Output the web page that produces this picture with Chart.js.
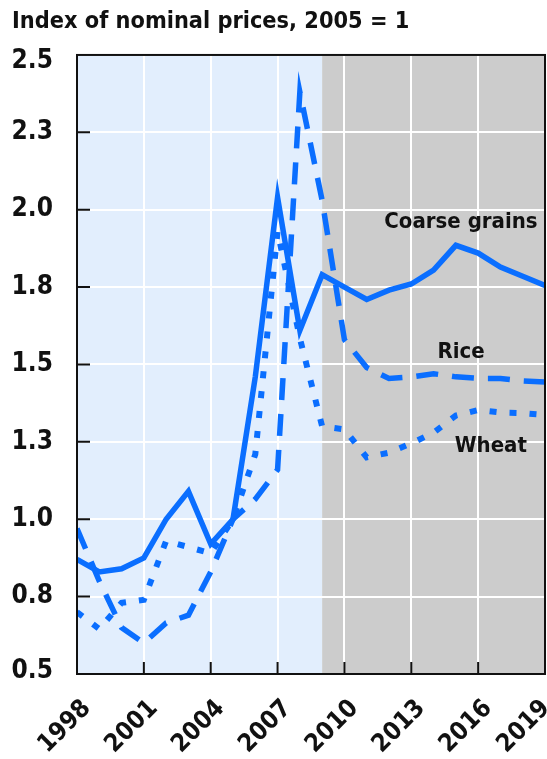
<!DOCTYPE html>
<html>
<head>
<meta charset="utf-8">
<script src="https://cdn.jsdelivr.net/npm/chart.js@4.4.0/dist/chart.umd.min.js"></script>
<style>
  html, body { margin: 0; padding: 0; background: #fff; }
  #wrap { width: 547px; height: 759px; position: relative; }
</style>
</head>
<body>
<div id="wrap"><canvas id="priceChart"></canvas></div>
<script>
/************************ DATA ************************** */
const years = [1998, 1999, 2000, 2001, 2002, 2003, 2004, 2005, 2006, 2007, 2008,
  2009, 2010, 2011, 2012, 2013, 2014, 2015, 2016, 2017, 2018, 2019];

const coarseGrains = [0.87, 0.83, 0.84, 0.875, 1.0, 1.09, 0.92, 1.0, 1.46, 2.04, 1.61,
  1.79, 1.75, 1.71, 1.74, 1.76, 1.805, 1.885, 1.86, 1.815, 1.785, 1.755];
const rice = [0.97, 0.8, 0.65, 0.6, 0.665, 0.69, 0.83, 1.0, 1.065, 1.16, 2.38,
  2.03, 1.58, 1.49, 1.455, 1.46, 1.47, 1.46, 1.455, 1.455, 1.447, 1.443];
const wheat = [0.7, 0.645, 0.73, 0.74, 0.93, 0.91, 0.89, 1.0, 1.21, 1.93, 1.585,
  1.3, 1.29, 1.2, 1.215, 1.245, 1.28, 1.335, 1.353, 1.345, 1.343, 1.337];

const xTickLabels = ["1998", "2001", "2004", "2007", "2010", "2013", "2016", "2019"];
const yTickLabels = ["0.5", "0.8", "1.0", "1.3", "1.5", "1.8", "2.0", "2.3", "2.5"];

const projectionStart = 2009;

/************************ STYLE ************************** */
const FONT = "'DejaVu Sans Condensed', 'Liberation Sans Narrow', 'Liberation Sans', sans-serif";
const blue = "#0a6eff";
const lightBlue = "#e2eefd";
const grey = "#cccccc";

const seriesLabels = [
  { text: "Coarse grains", x: 2015.23, y: 1.96 },
  { text: "Rice", x: 2015.23, y: 1.54 },
  { text: "Wheat", x: 2016.57, y: 1.236 },
];

function toPoints(values) {
  return values.map((v, i) => ({ x: years[i], y: v }));
}

/************************ PLUGINS ************************** */
// shaded periods behind the grid (+ small nudges of edge tick labels)
const periodShading = {
  id: "periodShading",
  beforeDraw(chart) {
    const { ctx, chartArea, scales } = chart;
    const split = scales.x.getPixelForValue(projectionStart);
    ctx.save();
    ctx.fillStyle = lightBlue;
    ctx.fillRect(chartArea.left, chartArea.top, split - chartArea.left, chartArea.height);
    ctx.fillStyle = grey;
    ctx.fillRect(split, chartArea.top, chartArea.right - split, chartArea.height);
    ctx.restore();

    // keep last year label inside the canvas, drop top y label a bit
    const xItems = scales.x.getLabelItems();
    if (xItems.length) xItems[xItems.length - 1].options.translation[0] -= 9;
    const yItems = scales.y.getLabelItems();
    if (yItems.length) {
      yItems[0].options.translation[1] -= 3;
      yItems[yItems.length - 1].options.translation[1] += 6;
    }
  },
};

// inward tick marks, frame and line labels
const frameAndLabels = {
  id: "frameAndLabels",
  afterDatasetsDraw(chart) {
    const { ctx, chartArea, scales } = chart;
    ctx.save();
    ctx.strokeStyle = "#111";
    ctx.lineWidth = 2;
    ctx.beginPath();
    scales.y.ticks.forEach((t) => {
      if (t.value <= 0.5 || t.value >= 2.5) return;
      const py = scales.y.getPixelForValue(t.value);
      ctx.moveTo(chartArea.left, py);
      ctx.lineTo(chartArea.left + 13, py);
    });
    scales.x.ticks.forEach((t) => {
      if (t.value <= 1998 || t.value >= 2019) return;
      const px = scales.x.getPixelForValue(t.value);
      ctx.moveTo(px, chartArea.bottom);
      ctx.lineTo(px, chartArea.bottom - 12);
    });
    ctx.stroke();
    ctx.strokeRect(chartArea.left, chartArea.top, chartArea.width, chartArea.height);

    ctx.fillStyle = "#111";
    ctx.font = "bold 22px " + FONT;
    ctx.textAlign = "center";
    ctx.textBaseline = "middle";
    seriesLabels.forEach((l) => {
      ctx.fillText(l.text, scales.x.getPixelForValue(l.x), scales.y.getPixelForValue(l.y));
    });
    ctx.restore();
  },
};

/************************ CHART ************************** */
const ctx = document.getElementById("priceChart");

const config = {
  type: "line",
  data: {
    datasets: [
      {
        label: "Coarse grains",
        data: toPoints(coarseGrains),
        borderColor: blue,
        borderWidth: 5.5,
        pointRadius: 0,
        tension: 0,
      },
      {
        label: "Rice",
        data: toPoints(rice),
        borderColor: blue,
        borderWidth: 5.5,
        borderDash: [22, 14],
        pointRadius: 0,
        tension: 0,
      },
      {
        label: "Wheat",
        data: toPoints(wheat),
        borderColor: blue,
        borderWidth: 6,
        borderDash: [7, 13],
        pointRadius: 0,
        tension: 0,
      },
    ],
  },
  options: {
    responsive: false,
    animation: false,
    devicePixelRatio: 1,
    layout: {
      padding: { left: 12, right: 2, top: 0, bottom: 0 },
    },
    scales: {
      x: {
        type: "linear",
        min: 1998,
        max: 2019,
        grid: { color: "#ffffff", lineWidth: 2, drawTicks: false },
        border: { display: false },
        ticks: {
          stepSize: 3,
          autoSkip: false,
          minRotation: 45,
          maxRotation: 45,
          padding: 20,
          labelOffset: 10,
          color: "#111",
          font: { family: FONT, size: 25, weight: "bold" },
          callback: (value) => xTickLabels[xTickLabels.indexOf(String(value))],
        },
        afterFit(scale) {
          scale.paddingRight = 0;
          scale.paddingLeft = 0;
          scale.height = 85;
        },
      },
      y: {
        min: 0.5,
        max: 2.5,
        grid: { color: "#ffffff", lineWidth: 2, drawTicks: false },
        border: { display: false },
        ticks: {
          stepSize: 0.25,
          padding: 24,
          color: "#111",
          font: { family: FONT, size: 26, weight: "bold" },
          callback: (value) => yTickLabels[Math.round((value - 0.5) / 0.25)],
        },
        afterFit(scale) {
          scale.width = 65;
        },
      },
    },
    plugins: {
      legend: { display: false },
      tooltip: { enabled: false },
      title: {
        display: true,
        align: "start",
        text: "Index of nominal prices, 2005 = 1",
        color: "#111",
        font: { family: FONT, size: 23.3, weight: "bold" },
        padding: { top: 8, bottom: 19 },
      },
    },
  },
  plugins: [periodShading, frameAndLabels],
};

const canvas = ctx;
canvas.width = 547;
canvas.height = 759;
let priceChart = new Chart(ctx, config);
</script>
</body>
</html>
